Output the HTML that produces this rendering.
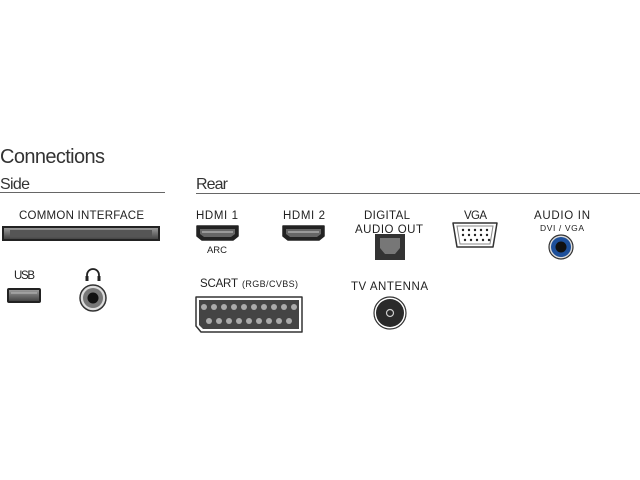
<!DOCTYPE html>
<html><head><meta charset="utf-8"><style>
html,body{margin:0;padding:0;background:#fff;width:640px;height:480px;overflow:hidden}
svg text{font-family:"Liberation Sans",sans-serif;fill:#222}
</style></head><body>
<svg width="640" height="480" viewBox="0 0 640 480" xmlns="http://www.w3.org/2000/svg">
<defs>
<linearGradient id="g1" x1="0" y1="0" x2="0" y2="1"><stop offset="0" stop-color="#888"/><stop offset="1" stop-color="#333"/></linearGradient>
<linearGradient id="g2" x1="0" y1="0" x2="0" y2="1"><stop offset="0" stop-color="#999"/><stop offset="1" stop-color="#444"/></linearGradient>
</defs>
<text x="0" y="163" font-size="20" textLength="105" fill="#333" style="fill:#333">Connections</text>
<text x="0" y="189" font-size="16" textLength="30" style="fill:#333">Side</text>
<line x1="0" y1="192.5" x2="165" y2="192.5" stroke="#666" stroke-width="1"/>
<text x="196" y="189" font-size="16" textLength="32" style="fill:#333">Rear</text>
<line x1="196" y1="193.5" x2="640" y2="193.5" stroke="#666" stroke-width="1"/>

<!-- common interface -->
<text x="19" y="219" font-size="11.5" textLength="125">COMMON INTERFACE</text>
<rect x="2" y="226" width="158" height="15" fill="#222"/>
<rect x="4" y="228" width="154" height="11" fill="url(#g2)"/>
<rect x="10" y="230" width="142" height="7" fill="#555"/>

<!-- USB -->
<text x="14" y="279" font-size="11.5" textLength="21">USB</text>
<rect x="7" y="288" width="34" height="15" rx="2" fill="#222"/>
<rect x="9" y="290" width="30" height="11" fill="url(#g2)"/>
<line x1="11" y1="293" x2="37" y2="293" stroke="#bbb" stroke-width="1"/>

<!-- headphone -->
<path d="M87 280 v-5 a6 6 0 0 1 12 0 v5" fill="none" stroke="#222" stroke-width="1.8"/>
<rect x="85.5" y="276" width="3" height="5" fill="#222"/>
<rect x="97.5" y="276" width="3" height="5" fill="#222"/>
<circle cx="93" cy="298" r="13" fill="#ddd" stroke="#333" stroke-width="1.5"/>
<circle cx="93" cy="298" r="10" fill="#777"/>
<circle cx="93" cy="298" r="5.5" fill="#111"/>

<!-- HDMI -->
<g id="hdmi">
<path d="M197 226 h41 v10 l-5 4 h-31 l-5 -4 z" fill="#222" stroke="#222" stroke-width="1.5" stroke-linejoin="round"/>
<path d="M200 229 h35 v5 l-4 3 h-27 l-4 -3 z" fill="#666"/>
<line x1="202" y1="232" x2="233" y2="232" stroke="#ccc" stroke-width="1"/>
</g>
<use href="#hdmi" x="86"/>
<text x="196" y="219" font-size="11.5" textLength="42">HDMI 1</text>
<text x="207" y="253" font-size="9.5" textLength="20">ARC</text>
<text x="283" y="219" font-size="11.5" textLength="42">HDMI 2</text>

<!-- digital audio -->
<text x="364" y="219" font-size="11.5" textLength="46">DIGITAL</text>
<text x="355" y="233" font-size="11.5" textLength="68">AUDIO OUT</text>
<rect x="375" y="234" width="30" height="26" fill="#333"/>
<path d="M380 238 h20 v10 l-5 6 h-10 l-5 -6 z" fill="#777"/>

<!-- VGA -->
<text x="464" y="219" font-size="11.5" textLength="23">VGA</text>
<path d="M453 223 h44 l-4 24 h-36 z" fill="#fff" stroke="#333" stroke-width="1.5" stroke-linejoin="round"/>
<path d="M457 226 h36 l-3 18 h-30 z" fill="#fff" stroke="#888" stroke-width="1"/>
<g fill="#222">
<circle cx="463" cy="230" r="1.2"/><circle cx="469" cy="230" r="1.2"/><circle cx="475" cy="230" r="1.2"/><circle cx="481" cy="230" r="1.2"/><circle cx="487" cy="230" r="1.2"/>
<circle cx="463" cy="235" r="1.2"/><circle cx="469" cy="235" r="1.2"/><circle cx="475" cy="235" r="1.2"/><circle cx="481" cy="235" r="1.2"/><circle cx="487" cy="235" r="1.2"/>
<circle cx="465" cy="240" r="1.2"/><circle cx="471" cy="240" r="1.2"/><circle cx="477" cy="240" r="1.2"/><circle cx="483" cy="240" r="1.2"/><circle cx="489" cy="240" r="1.2"/>
</g>

<!-- audio in -->
<text x="534" y="219" font-size="11.5" textLength="56">AUDIO IN</text>
<text x="540" y="231" font-size="8.5" textLength="44">DVI / VGA</text>
<circle cx="561" cy="247" r="12" fill="#ddd" stroke="#333" stroke-width="1.2"/>
<circle cx="561" cy="247" r="10" fill="#1d4f9a"/>
<circle cx="561" cy="247" r="5.5" fill="#111"/>

<!-- SCART -->
<text x="200" y="287" font-size="11.5" textLength="38">SCART</text>
<text x="242" y="287" font-size="9" textLength="56">(RGB/CVBS)</text>
<path d="M196 297 h106 v35 h-101 l-5 -6 z" fill="#fff" stroke="#333" stroke-width="1.5" stroke-linejoin="round"/>
<path d="M199 300 h100 v29 h-96 l-4 -4 z" fill="#444"/>
<g fill="#aaa">
<circle cx="204" cy="307" r="3"/><circle cx="214" cy="307" r="3"/><circle cx="224" cy="307" r="3"/><circle cx="234" cy="307" r="3"/><circle cx="244" cy="307" r="3"/><circle cx="254" cy="307" r="3"/><circle cx="264" cy="307" r="3"/><circle cx="274" cy="307" r="3"/><circle cx="284" cy="307" r="3"/><circle cx="294" cy="307" r="3"/>
<circle cx="209" cy="321" r="3"/><circle cx="219" cy="321" r="3"/><circle cx="229" cy="321" r="3"/><circle cx="239" cy="321" r="3"/><circle cx="249" cy="321" r="3"/><circle cx="259" cy="321" r="3"/><circle cx="269" cy="321" r="3"/><circle cx="279" cy="321" r="3"/><circle cx="289" cy="321" r="3"/>
</g>

<!-- TV antenna -->
<text x="351" y="290" font-size="11.5" textLength="77">TV ANTENNA</text>
<circle cx="390" cy="313" r="16" fill="#fff" stroke="#333" stroke-width="1.2"/>
<circle cx="390" cy="313" r="14" fill="#2a2a2a"/>
<circle cx="390" cy="313" r="3.5" fill="none" stroke="#ccc" stroke-width="1.2"/>
</svg>
</body></html>
